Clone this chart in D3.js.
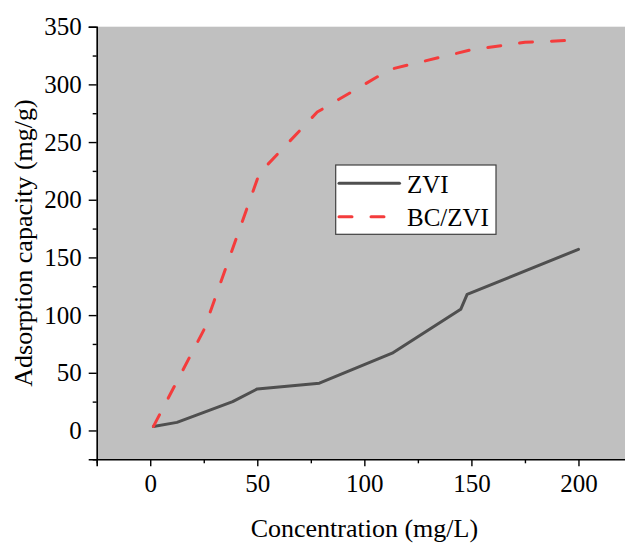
<!DOCTYPE html>
<html>
<head>
<meta charset="utf-8">
<script src="https://cdn.jsdelivr.net/npm/d3@7"></script>
<style>
  html, body { margin: 0; padding: 0; background: #fff; }
  svg { display: block; }
  text { font-family: "Liberation Serif", "Times New Roman", serif; fill: #000; }
</style>
</head>
<body>
<svg id="chart" width="625" height="543"></svg>
<script>
// Data
const zviX   = [1.5, 12.5, 38.5, 50, 79, 113, 145, 148, 200];
const zviY   = [3.5, 7, 25, 36, 41, 67, 105, 118, 157];
const bcX    = [1.5, 25, 51, 78, 112, 150, 175, 200];
const bcY    = [3.5, 87, 223, 276, 313, 330, 336.5, 338.5];
const xTicks = [0, 50, 100, 150, 200];
const yTicks = [0, 50, 100, 150, 200, 250, 300, 350];
const seriesNames = ["ZVI", "BC/ZVI"];

const svg = d3.select("#chart");
const L = 96.7, T = 26.7, R = 632, B = 459.3;

const x = d3.scaleLinear().domain([-25, 225]).range([L, R]);
const y = d3.scaleLinear().domain([-25, 350]).range([B, T]);

// plot background
svg.append("rect")
  .attr("x", L).attr("y", T)
  .attr("width", R - L).attr("height", B - T)
  .attr("fill", "#c0c0c0");

// axes
const xMinor = d3.range(-25, 226, 25).filter(v => xTicks.indexOf(v) < 0);
const yMinor = d3.range(-25, 351, 25).filter(v => yTicks.indexOf(v) < 0);

const gx = svg.append("g").attr("transform", `translate(0,${B})`);
gx.call(d3.axisBottom(x).tickValues(xTicks).tickSize(7).tickPadding(8).tickFormat(d3.format("d")));
gx.append("g").call(d3.axisBottom(x).tickValues(xMinor).tickSize(4).tickFormat(""))
  .select(".domain").remove();

const gy = svg.append("g").attr("transform", `translate(${L},0)`);
gy.call(d3.axisLeft(y).tickValues(yTicks).tickSize(8).tickPadding(7).tickFormat(d3.format("d")));
gy.append("g").call(d3.axisLeft(y).tickValues(yMinor).tickSize(4).tickFormat(""))
  .select(".domain").remove();

svg.selectAll(".domain").attr("stroke", "#000").attr("stroke-width", 1.6);
svg.selectAll(".tick line").attr("stroke", "#000").attr("stroke-width", 1.4);
svg.selectAll(".tick text")
  .attr("font-family", "'Liberation Serif', 'Times New Roman', serif")
  .attr("font-size", 25).attr("fill", "#000");
gx.selectAll(".tick text").attr("dy", "0.71em");

// clip lines to plot
svg.append("clipPath").attr("id", "clip")
  .append("rect").attr("x", L).attr("y", T).attr("width", R - L).attr("height", B - T);

const line = d3.line().x(d => x(d[0])).y(d => y(d[1]));
const zviData = zviX.map((v, i) => [v, zviY[i]]);
const bcData = bcX.map((v, i) => [v, bcY[i]]);

const plot = svg.append("g").attr("clip-path", "url(#clip)");
plot.append("path").datum(zviData)
  .attr("d", line).attr("fill", "none")
  .attr("stroke", "#4f4f4f").attr("stroke-width", 3)
  .attr("stroke-linejoin", "round").attr("stroke-linecap", "round");
plot.append("path").datum(bcData)
  .attr("d", line).attr("fill", "none")
  .attr("stroke", "#f43c3c").attr("stroke-width", 3)
  .attr("stroke-dasharray", "13,19")
  .attr("stroke-linejoin", "round").attr("stroke-linecap", "round");

// axis titles
svg.append("text")
  .attr("x", (L + R) / 2).attr("y", 536.5)
  .attr("text-anchor", "middle").attr("font-size", 26)
  .text("Concentration (mg/L)");
svg.append("text")
  .attr("transform", `translate(32,${(T + B) / 2}) rotate(-90)`)
  .attr("text-anchor", "middle").attr("font-size", 26)
  .text("Adsorption capacity (mg/g)");

// legend
const lg = svg.append("g");
lg.append("rect")
  .attr("x", 335.7).attr("y", 165).attr("width", 160.3).attr("height", 69.3)
  .attr("fill", "#fff").attr("stroke", "#404040").attr("stroke-width", 1.2);
const legendStyles = [
  { color: "#4f4f4f", dash: null, ly: 183.3, ty: 192.7 },
  { color: "#f43c3c", dash: "13,19", ly: 216.7, ty: 226 }
];
seriesNames.forEach((name, i) => {
  const s = legendStyles[i];
  const ln = lg.append("line")
    .attr("x1", 339).attr("x2", 399.5).attr("y1", s.ly).attr("y2", s.ly)
    .attr("stroke", s.color).attr("stroke-width", 3).attr("stroke-linecap", "round");
  if (s.dash) ln.attr("stroke-dasharray", s.dash);
  lg.append("text").attr("x", 407).attr("y", s.ty)
    .attr("font-size", 25).text(name);
});
</script>
</body>
</html>
